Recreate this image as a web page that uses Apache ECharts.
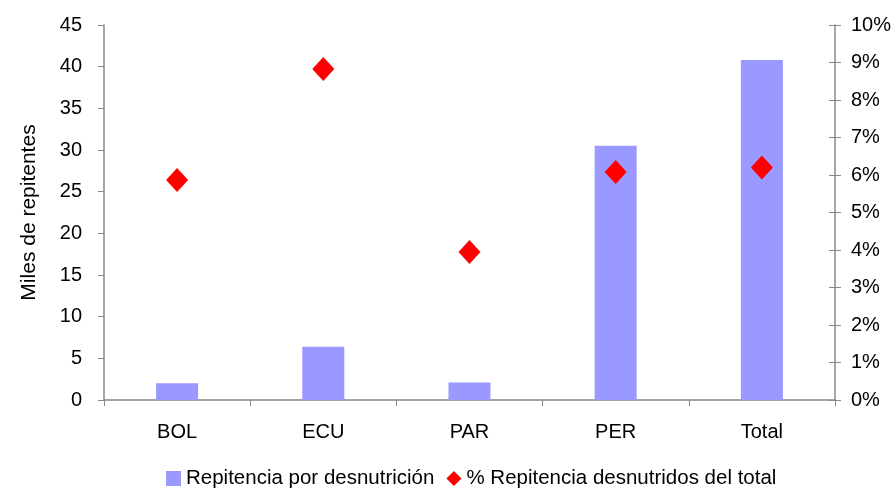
<!DOCTYPE html>
<html>
<head>
<meta charset="utf-8">
<script src="https://cdn.jsdelivr.net/npm/echarts@6/dist/echarts.min.js"></script>
<style>
  html, body { margin: 0; padding: 0; background: #fff; }
  #chart { width: 894px; height: 490px; }
</style>
</head>
<body>
<div id="chart"></div>
<script>
// Países y total
const categories = ['BOL', 'ECU', 'PAR', 'PER', 'Total'];
// Miles de repitentes por desnutrición
const repitencia = [2.0, 6.4, 2.1, 30.5, 40.8];
// % de repitencia de desnutridos sobre el total
const porcentaje = [5.87, 8.83, 3.95, 6.08, 6.2];

const font = 'Liberation Sans, Arial, sans-serif';
const axisGray = '#888888';

const chart = echarts.init(document.getElementById('chart'));
chart.setOption({
  animation: false,
  backgroundColor: '#ffffff',
  grid: { left: 104, right: 58, top: 25, bottom: 90, containLabel: false },
  legend: {
    top: 468,
    left: 166,
    padding: 0,
    itemGap: 12,
    itemWidth: 15,
    itemHeight: 15,
    textStyle: { fontFamily: font, fontSize: 20.5, color: '#000' },
    data: [
      { name: 'Repitencia por desnutrición', icon: 'rect' },
      { name: '% Repitencia desnutridos del total', icon: 'diamond' }
    ]
  },
  xAxis: {
    type: 'category',
    data: categories,
    axisLine: { lineStyle: { color: axisGray, width: 1.5 } },
    axisTick: { show: true, inside: false, length: 6, lineStyle: { color: axisGray } },
    axisLabel: { fontFamily: font, fontSize: 20, color: '#000', margin: 22 }
  },
  yAxis: [
    {
      type: 'value',
      min: 0, max: 45, interval: 5,
      name: 'Miles de repitentes',
      nameLocation: 'middle',
      nameGap: 64,
      nameRotate: 90,
      nameTextStyle: { fontFamily: font, fontSize: 21, color: '#000' },
      axisLine: { show: true, lineStyle: { color: axisGray, width: 1.5 } },
      axisTick: { show: true, length: 6, lineStyle: { color: axisGray } },
      axisLabel: { fontFamily: font, fontSize: 20, color: '#000', margin: 22 },
      splitLine: { show: false }
    },
    {
      type: 'value',
      min: 0, max: 0.1, interval: 0.01,
      position: 'right',
      axisLine: { show: true, lineStyle: { color: axisGray, width: 1.5 } },
      axisTick: { show: false },
      axisLabel: {
        fontFamily: font, fontSize: 20, color: '#000', margin: 16,
        formatter: v => Math.round(v * 100) + '%'
      },
      splitLine: { show: false }
    },
    {
      // cross ticks on the right axis
      type: 'value',
      min: 0, max: 0.1, interval: 0.01,
      position: 'right',
      offset: -6,
      axisLine: { show: false },
      axisTick: { show: true, length: 12, lineStyle: { color: axisGray } },
      axisLabel: { show: false },
      splitLine: { show: false }
    }
  ],
  series: [
    {
      name: 'Repitencia por desnutrición',
      type: 'bar',
      yAxisIndex: 0,
      data: repitencia,
      barWidth: 42,
      itemStyle: { color: '#9999FF' }
    },
    {
      name: '% Repitencia desnutridos del total',
      type: 'scatter',
      yAxisIndex: 1,
      data: porcentaje.map(v => v / 100),
      symbol: 'diamond',
      symbolSize: [22, 24],
      itemStyle: { color: '#FF0000', opacity: 1 },
      z: 5
    }
  ]
});
</script>
</body>
</html>
